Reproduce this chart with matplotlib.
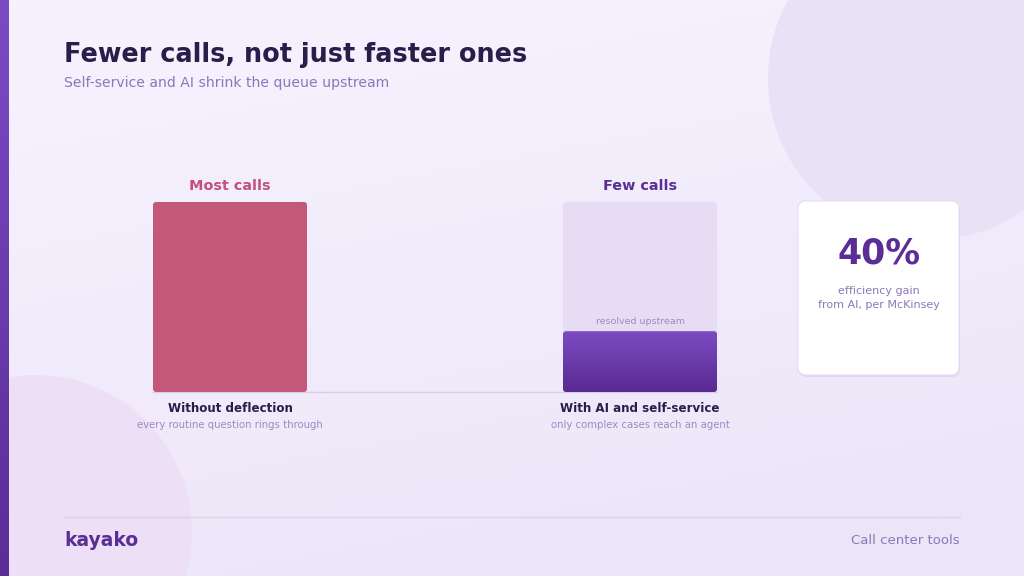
import numpy as np
import matplotlib
matplotlib.use("Agg")
import matplotlib.pyplot as plt
from matplotlib.patches import FancyBboxPatch, Circle
from matplotlib.colors import LinearSegmentedColormap

# ---- data ----
scenarios = ["Without deflection", "With AI and self-service"]
notes = ["every routine question rings through", "only complex cases reach an agent"]
headers = ["Most calls", "Few calls"]
calls_to_agent = [100, 32]      # share of calls reaching an agent
resolved_upstream = [0, 68]     # share deflected before the queue
stat_value = "40%"
stat_text = "efficiency gain\nfrom AI, per McKinsey"

W, H = 1024, 576
DARK = "#2a1d4a"
PURPLE = "#5b2d96"
MUTED = "#8a78b8"
PINK = "#c4587a"

fig = plt.figure(figsize=(W / 100, H / 100), dpi=100)

# background canvas in pixel coordinates
bg = fig.add_axes([0, 0, 1, 1])
bg.axis("off")
grad = LinearSegmentedColormap.from_list("bg", ["#f6f3fe", "#ece4f8"])
yy, xx = np.mgrid[0:1:200j, 0:1:200j]
bg.imshow(0.75 * yy + 0.25 * xx, cmap=grad, extent=[0, W, H, 0], aspect="auto", zorder=0)
bg.add_patch(Circle((930, 78), 162, color="#e9e2f6", zorder=1, lw=0))
bg.add_patch(Circle((35, 532), 157, color="#ecdff6", zorder=1, lw=0))
acc = LinearSegmentedColormap.from_list("acc", ["#7a4bc4", "#5b2d96"])
bg.imshow(np.linspace(0, 1, 100)[:, None], cmap=acc, extent=[0, 9, H, 0], aspect="auto", zorder=2)
bg.set_xlim(0, W)
bg.set_ylim(H, 0)

# titles
bg.text(64, 55, "Fewer calls, not just faster ones", fontsize=18.4, fontweight="bold",
        color=DARK, va="center", ha="left", zorder=5)
bg.text(64, 83, "Self-service and AI shrink the queue upstream", fontsize=10.1,
        color=MUTED, va="center", ha="left", zorder=5)

# stat card
bg.add_patch(FancyBboxPatch((799, 203), 161, 174, boxstyle="round,pad=0,rounding_size=8",
                            fc="#d9cdee", ec="none", alpha=0.6, zorder=3))
bg.add_patch(FancyBboxPatch((798, 201), 161, 174, boxstyle="round,pad=0,rounding_size=8",
                            fc="#ffffff", ec="#e4dcf2", lw=0.8, zorder=4))
bg.text(879, 253, stat_value, fontsize=25, fontweight="bold", color=PURPLE,
        ha="center", va="center", zorder=5)
bg.text(879, 298, stat_text, fontsize=8, color=MUTED, ha="center", va="center",
        linespacing=1.5, zorder=5)

# footer
bg.plot([64, 960], [517, 517], color="#dcd2ee", lw=1, zorder=3)
bg.text(64, 540, "kayako", fontsize=13.5, fontweight="bold", color=PURPLE,
        ha="left", va="center", zorder=5)
bg.text(960, 541, "Call center tools", fontsize=9.5, color=MUTED,
        ha="right", va="center", zorder=5)

# ---- bar chart ----
ax = fig.add_axes([25 / W, (H - 392) / H, 820 / W, 190 / H])
ax.patch.set_alpha(0)
ax.axis("off")
x = np.arange(len(scenarios))
bw = 154 / 410

px_x = 410.0      # pixels per x unit
px_y = 1.9        # pixels per y unit
asp = px_x / px_y

back = ax.bar(x, np.array(calls_to_agent) + np.array(resolved_upstream), bw, color="none")
front = ax.bar(x, calls_to_agent, bw, color="none")


def rounded(rect, **kw):
    p = FancyBboxPatch((rect.get_x(), rect.get_y()), rect.get_width(), rect.get_height(),
                       boxstyle="round,pad=0,rounding_size=%f" % (3 / px_x),
                       mutation_aspect=asp, lw=0, **kw)
    ax.add_patch(p)
    return p


ax.plot([-0.5 + (153 - 25) / px_x, 1 + bw / 2], [0, 0], color="#d8cdea", lw=1, zorder=1,
        clip_on=False)

# resolved upstream background
rounded(back[1], fc="#e6ddf5", zorder=2)
ax.text(x[1], calls_to_agent[1] + 5, "resolved upstream", fontsize=6.8, color="#9a8cc0",
        ha="center", va="center", zorder=5)

# without deflection
rounded(front[0], fc=PINK, zorder=3)
# with AI: gradient fill
r = front[1]
p = rounded(r, fc="none", zorder=3)
bgr = LinearSegmentedColormap.from_list("bar", ["#5a2a90", "#7b4cc2"])
im = ax.imshow(np.linspace(0, 1, 100)[:, None], cmap=bgr, origin="lower",
               extent=[r.get_x(), r.get_x() + r.get_width(), 0, r.get_height()],
               aspect="auto", zorder=3)
im.set_clip_path(p)
ax.set_xlim(-0.5, 1.5)
ax.set_ylim(0, 100)

header_colors = ["#c4507a", PURPLE]
for i in range(len(scenarios)):
    top = calls_to_agent[i] + resolved_upstream[i]
    ax.text(x[i], top + 8.5, headers[i], fontsize=10.4, fontweight="bold",
            color=header_colors[i], ha="center", va="center", clip_on=False)
    ax.text(x[i], -8.5, scenarios[i], fontsize=8.6, fontweight="bold", color=DARK,
            ha="center", va="center", clip_on=False)
    ax.text(x[i], -17.5, notes[i], fontsize=7.3, color="#9a8cc0",
            ha="center", va="center", clip_on=False)

fig.savefig("out.png", dpi=100)
